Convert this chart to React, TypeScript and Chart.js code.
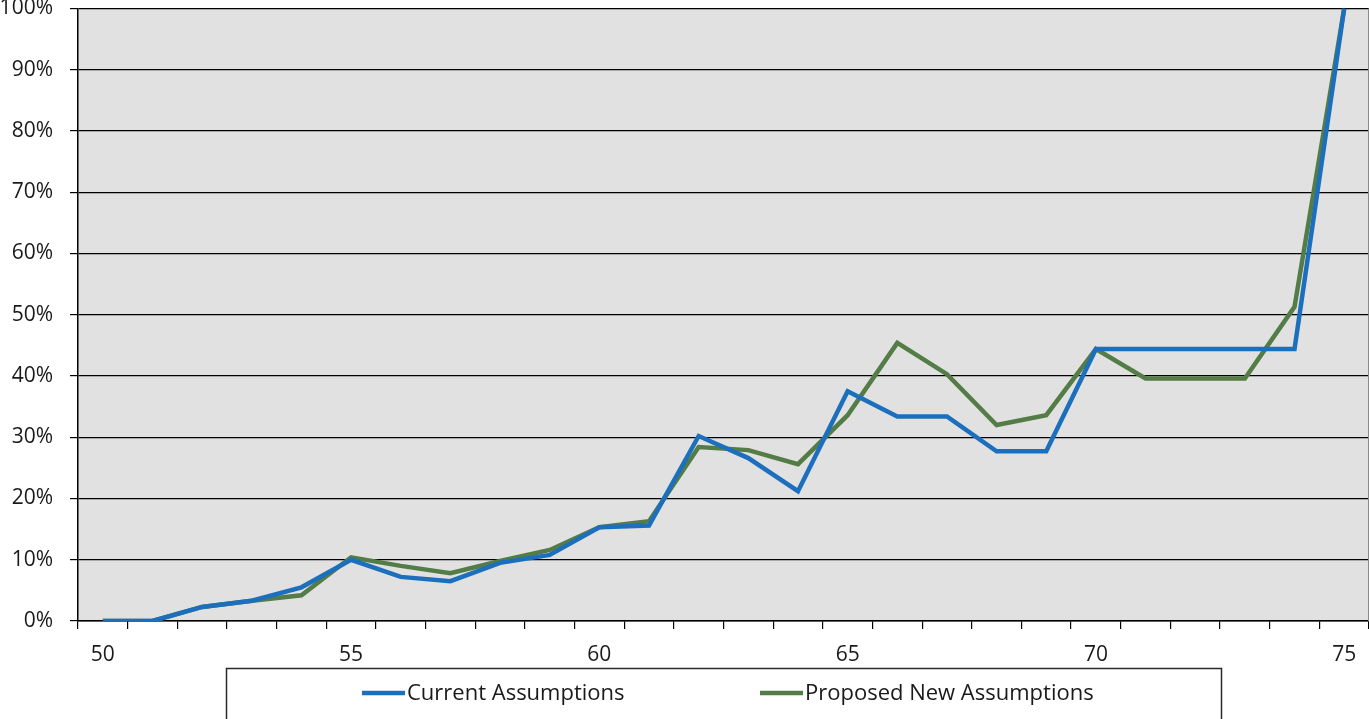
import React, { useEffect, useRef } from "react";
import { Chart, registerables } from "chart.js";

Chart.register(...registerables);

const ages: string[] = [
  "50", "51", "52", "53", "54", "55", "56", "57", "58", "59", "60", "61", "62",
  "63", "64", "65", "66", "67", "68", "69", "70", "71", "72", "73", "74", "75",
];

const currentAssumptions: number[] = [
  0, 0, 2.3, 3.3, 5.5, 10.0, 7.2, 6.5, 9.5, 10.8, 15.3, 15.6, 30.2,
  26.6, 21.2, 37.5, 33.4, 33.4, 27.7, 27.7, 44.4, 44.4, 44.4, 44.4, 44.4, 100,
];

const proposedAssumptions: number[] = [
  0, 0, 2.3, 3.3, 4.2, 10.4, 9.0, 7.8, 9.8, 11.6, 15.3, 16.3, 28.4,
  27.9, 25.6, 33.6, 45.4, 40.3, 32.0, 33.6, 44.4, 39.6, 39.6, 39.6, 51.3, 100,
];

const seriesLabels: string[] = ["Current Assumptions", "Proposed New Assumptions"];
const seriesColors: string[] = ["#1b6fbd", "#537c47"];

const FONT = "'Open Sans', 'DejaVu Sans', sans-serif";

const plotBgPlugin = {
  id: "plotBg",
  beforeDraw(chart: any) {
    const { ctx, chartArea } = chart;
    ctx.save();
    ctx.fillStyle = "#e1e1e1";
    ctx.fillRect(chartArea.left, chartArea.top, chartArea.right - chartArea.left, chartArea.bottom - chartArea.top);
    ctx.restore();
  },
  afterDraw(chart: any) {
    const { ctx, chartArea } = chart;
    ctx.save();
    // right border of plot area
    ctx.strokeStyle = "#8a8a8a";
    ctx.lineWidth = 1;
    ctx.beginPath();
    ctx.moveTo(chartArea.right - 0.5, chartArea.top);
    ctx.lineTo(chartArea.right - 0.5, chartArea.bottom);
    ctx.stroke();

    // legend box
    const boxL = 226.5, boxT = 668.5, boxR = 1221.5, boxB = 740;
    ctx.strokeStyle = "#2a2a2a";
    ctx.lineWidth = 1.5;
    ctx.strokeRect(boxL, boxT, boxR - boxL, boxB - boxT);

    const items = chart.data.datasets;
    const starts = [362, 760];
    ctx.font = "22px " + FONT;
    ctx.textBaseline = "middle";
    ctx.fillStyle = "#1a1a1a";
    items.forEach((ds: any, i: number) => {
      const x = starts[i];
      const y = 693;
      ctx.strokeStyle = ds.borderColor;
      ctx.lineWidth = 4.5;
      ctx.beginPath();
      ctx.moveTo(x, y);
      ctx.lineTo(x + 43, y);
      ctx.stroke();
      ctx.fillText(ds.label, x + 45, y + 1);
    });
    ctx.restore();
  },
};

export default function App() {
  const canvasRef = useRef<HTMLCanvasElement | null>(null);

  useEffect(() => {
    if (!canvasRef.current) return;
    const chart = new Chart(canvasRef.current, {
      type: "line",
      data: {
        labels: ages,
        datasets: [
          {
            label: seriesLabels[0],
            data: currentAssumptions,
            borderColor: seriesColors[0],
            backgroundColor: seriesColors[0],
            borderWidth: 4.5,
            pointRadius: 0,
            tension: 0,
          },
          {
            label: seriesLabels[1],
            data: proposedAssumptions,
            borderColor: seriesColors[1],
            backgroundColor: seriesColors[1],
            borderWidth: 4.5,
            pointRadius: 0,
            tension: 0,
          },
        ],
      },
      options: {
        animation: false,
        responsive: true,
        maintainAspectRatio: false,
        layout: { padding: { top: 8.5, right: 0, left: 0, bottom: 0 } },
        plugins: {
          legend: { display: false },
          tooltip: { enabled: false },
        },
        scales: {
          x: {
            type: "category",
            offset: true,
            grid: {
              offset: true,
              drawOnChartArea: false,
              drawTicks: true,
              tickLength: 8,
              color: "#000000",
              lineWidth: 1.2,
            },
            border: { color: "#000000", width: 1.5 },
            ticks: {
              autoSkip: false,
              maxRotation: 0,
              minRotation: 0,
              padding: 13,
              color: "#1a1a1a",
              font: { family: FONT, size: 21 },
              callback: function (this: any, value: any, index: number) {
                const lbl = ages[index];
                return Number(lbl) % 5 === 0 ? lbl : "";
              },
            },
            afterFit(scale: any) {
              scale.height = 98;
              scale.paddingLeft = 0;
              scale.paddingRight = 0;
            },
          },
          y: {
            min: 0,
            max: 100,
            grid: {
              color: "#000000",
              lineWidth: 1.2,
              drawTicks: true,
              tickLength: 8,
            },
            border: { color: "#000000", width: 1.5 },
            ticks: {
              stepSize: 10,
              padding: 17,
              color: "#1a1a1a",
              font: { family: FONT, size: 21 },
              callback: (v: any) => v + "%",
            },
            afterFit(scale: any) {
              scale.width = 78;
              scale.paddingTop = 0;
              scale.paddingBottom = 0;
            },
          },
        },
      },
      plugins: [plotBgPlugin],
    });
    return () => chart.destroy();
  }, []);

  return (
    <div style={{ position: "fixed", left: 0, top: 0, width: 1369, height: 719, background: "#ffffff" }}>
      <canvas ref={canvasRef} />
    </div>
  );
}
